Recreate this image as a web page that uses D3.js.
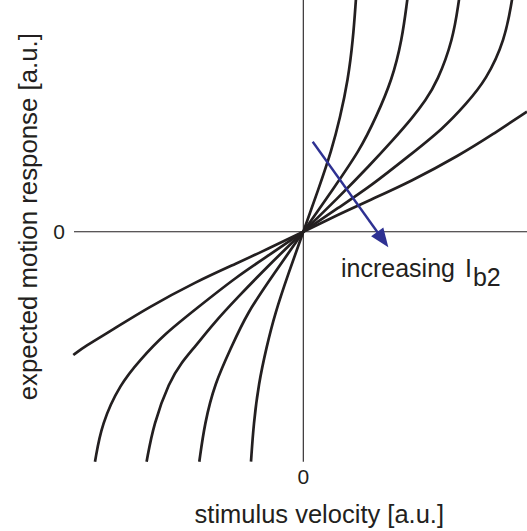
<!DOCTYPE html>
<html>
<head>
<meta charset="utf-8">
<script src="https://cdn.jsdelivr.net/npm/d3@7"></script>
<style>
  html, body { margin: 0; padding: 0; background: #fff; }
  svg { display: block; }
  text { font-family: "Liberation Sans", Arial, sans-serif; fill: #231f20; }
</style>
</head>
<body>
<svg id="chart" width="527" height="531"></svg>
<script>
// ---- data (stimulus velocity, expected motion response), arbitrary units ----
const curve1 = [[-0.523,-2.30],[-0.497,-1.92],[-0.447,-1.52],[-0.367,-1.15],[-0.284,-0.82],[-0.15,-0.42],[0,0],
                [0.15,0.42],[0.284,0.817],[0.367,1.137],[0.447,1.517],[0.497,1.917],[0.526,2.32]];
const curve2 = [[-1.04,-2.30],[-0.987,-1.92],[-0.887,-1.52],[-0.717,-1.15],[-0.567,-0.82],[-0.30,-0.43],[0,0],
                [0.30,0.43],[0.567,0.817],[0.73,1.15],[0.887,1.517],[0.987,1.917],[1.04,2.32]];
const curve3 = [[-1.567,-2.30],[-1.497,-1.92],[-1.34,-1.50],[-1.22,-1.31],[-1.083,-1.15],[-0.90,-0.92],[-0.667,-0.667],[-0.35,-0.34],[0,0],
                [0.35,0.34],[0.667,0.667],[0.90,0.92],[1.097,1.147],[1.22,1.31],[1.34,1.50],[1.497,1.917],[1.557,2.32]];
const curve4 = [[-2.083,-2.30],[-2.017,-1.92],[-1.83,-1.52],[-1.63,-1.28],[-1.397,-1.03],[-1.067,-0.767],[-0.667,-0.45],[-0.35,-0.24],[0,0],
                [0.35,0.24],[0.667,0.45],[1.067,0.767],[1.397,1.03],[1.63,1.28],[1.83,1.52],[2.017,1.917],[2.087,2.32]];
const curve5 = [[-2.30,-1.233],[-2.19,-1.15],[-1.897,-0.975],[-1.567,-0.767],[-1.067,-0.497],[-0.667,-0.317],[-0.35,-0.17],[0,0],
                [0.35,0.17],[0.667,0.317],[1.067,0.497],[1.567,0.767],[1.897,0.975],[2.237,1.20]];
const curves = [curve1, curve2, curve3, curve4, curve5];

const xExtent = [-2.293, 2.237];   // horizontal axis line extent
const yExtent = [-2.30, 2.317];    // vertical axis line extent
const xTickLabels = ["0"];
const yTickLabels = ["0"];
const xTitle = "stimulus velocity [a.u.]";
const yTitle = "expected motion response [a.u.]";
const arrowFrom = [0.094, 0.90];
const arrowTo = [0.85, -0.156];
const annotation = "increasing";

// ---- scales ----
const svg = d3.select("#chart");
const x = d3.scaleLinear().domain(xExtent).range([74, 527]);
const y = d3.scaleLinear().domain(yExtent).range([461.7, 0]);

// axes lines
svg.append("line")
  .attr("x1", x(xExtent[0])).attr("x2", x(xExtent[1]))
  .attr("y1", y(0)).attr("y2", y(0))
  .attr("stroke", "#231f20").attr("stroke-width", 1.1);
svg.append("line")
  .attr("x1", x(0)).attr("x2", x(0))
  .attr("y1", y(yExtent[0])).attr("y2", y(yExtent[1]))
  .attr("stroke", "#231f20").attr("stroke-width", 1.1);

// tick labels
svg.append("g").selectAll("text").data(xTickLabels).join("text")
  .attr("x", d => x(+d)).attr("y", y(yExtent[0]) + 22)
  .attr("text-anchor", "middle").attr("font-size", 21).text(d => d);
svg.append("g").selectAll("text").data(yTickLabels).join("text")
  .attr("x", x(xExtent[0]) - 9).attr("y", d => y(+d) + 7.5)
  .attr("text-anchor", "end").attr("font-size", 21).text(d => d);

// titles
svg.append("text")
  .attr("x", x(0.16)).attr("y", 523)
  .attr("text-anchor", "middle").attr("font-size", 25.5).text(xTitle);
svg.append("text")
  .attr("transform", `translate(37,${y(0.15)}) rotate(-90)`)
  .attr("text-anchor", "middle").attr("font-size", 25.8).text(yTitle);

// curves
const line = d3.line().x(d => x(d[0])).y(d => y(d[1])).curve(d3.curveBasis);
svg.append("g").selectAll("path").data(curves).join("path")
  .attr("d", line)
  .attr("fill", "none").attr("stroke", "#231f20").attr("stroke-width", 2.7)
  .attr("stroke-linecap", "butt");

// arrow
const blue = "#2e3192";
const ax1 = x(arrowFrom[0]), ay1 = y(arrowFrom[1]);
const ax2 = x(arrowTo[0]), ay2 = y(arrowTo[1]);
const ang = Math.atan2(ay2 - ay1, ax2 - ax1);
const headLen = 19, headHalf = 7.5;
const bx = ax2 - headLen * Math.cos(ang), by = ay2 - headLen * Math.sin(ang);
svg.append("line")
  .attr("x1", ax1).attr("y1", ay1).attr("x2", bx + 2 * Math.cos(ang)).attr("y2", by + 2 * Math.sin(ang))
  .attr("stroke", blue).attr("stroke-width", 2.4);
svg.append("path")
  .attr("d", `M${ax2},${ay2} L${bx - headHalf * Math.sin(ang)},${by + headHalf * Math.cos(ang)} L${bx + headHalf * Math.sin(ang)},${by - headHalf * Math.cos(ang)} Z`)
  .attr("fill", blue);

// annotation text
const ann = svg.append("text").attr("x", 341).attr("y", 276.7).attr("font-size", 25);
ann.append("tspan").text(annotation);
ann.append("tspan").attr("dx", 10).text("I");
ann.append("tspan").attr("dy", 9).attr("dx", 1).text("b2");
</script>
</body>
</html>
